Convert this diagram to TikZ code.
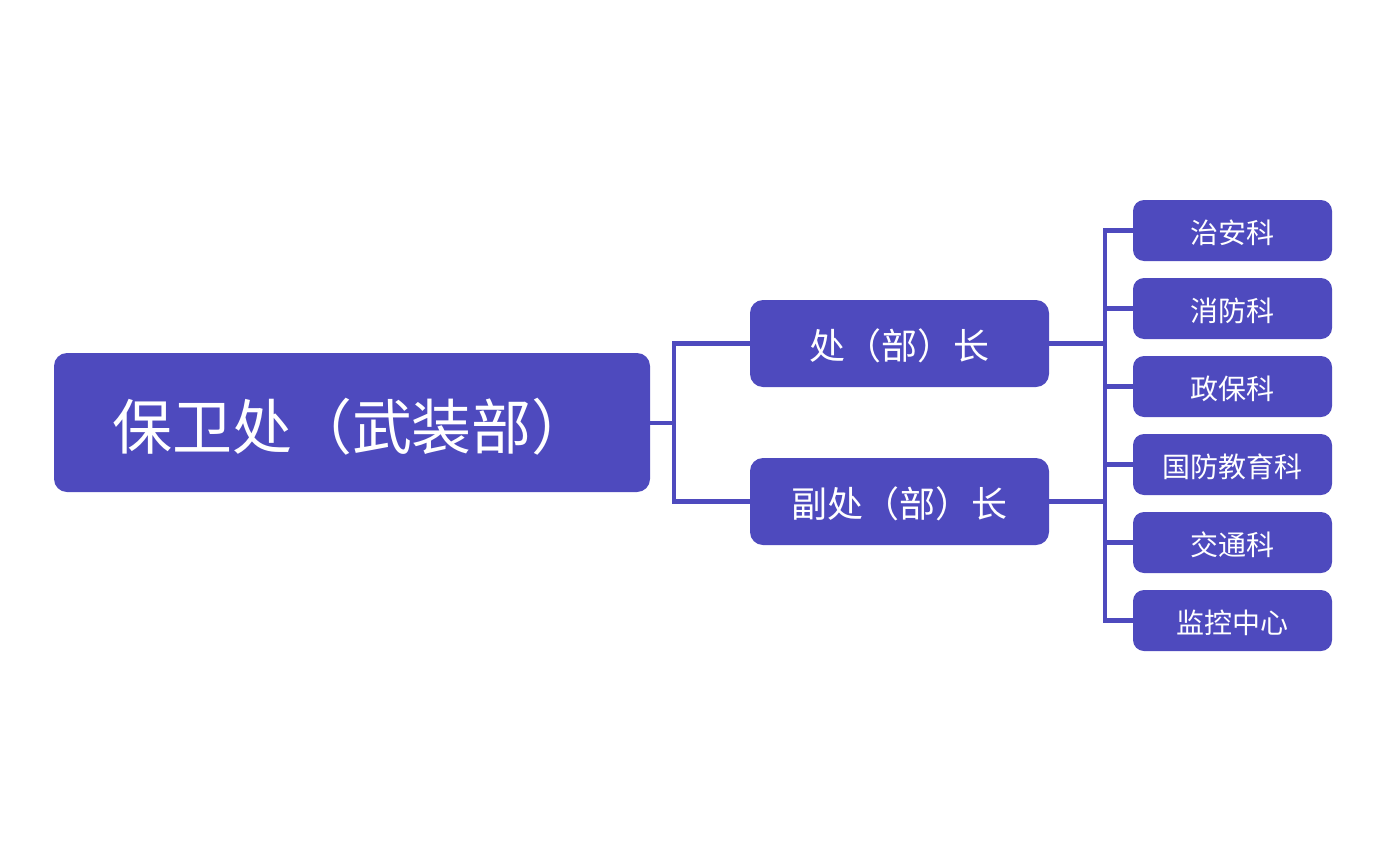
\documentclass[tikz,border=0pt]{standalone}
\usepackage{fontspec}
\setmainfont{Noto Sans CJK SC}
\newcommand{\lowertxt}[2]{\raisebox{-#1}[\height][\depth]{#2}}
\begin{document}
\begin{tikzpicture}[x=1pt,y=-1pt,
  box/.style={fill=mainc, rounded corners=13pt, inner sep=0pt, text=white},
  link/.style={draw=mainc, line width=4.5pt}]
\definecolor{mainc}{HTML}{4E4ABE}
\useasboundingbox (0,0) rectangle (1377,846);
\node[box, minimum width=596pt, minimum height=139pt, font=\fontsize{60}{64}\selectfont] (root) at (352,422.5) {\lowertxt{4pt}{保卫处（武装部）}};
\node[box, minimum width=299pt, minimum height=87pt, font=\fontsize{36}{40}\selectfont] (a) at (899.5,343.5) {\lowertxt{2.5pt}{处（部）长}};
\node[box, minimum width=299pt, minimum height=87pt, font=\fontsize{36}{40}\selectfont] (b) at (899.5,501.5) {\lowertxt{2.5pt}{副处（部）长}};
\foreach \n/\t [count=\i from 0] in {c1/治安科,c2/消防科,c3/政保科,c4/国防教育科,c5/交通科,c6/监控中心}{
  \node[box, rounded corners=11pt, minimum width=199pt, minimum height=61pt, font=\fontsize{28}{32}\selectfont] (\n) at (1232.5,230.5+78*\i) {\lowertxt{2pt}{\t}};
}
\coordinate (j1) at (674,423);
\draw[link] (root.east |- j1) -- (j1);
\draw[link] (a.west) -| (j1) |- (b.west);
\coordinate (v) at (1105,343.5);
\draw[link] (a.east) -- (v);
\draw[link] (b.east) -- (v |- b.east);
\draw[link] (c1.west) -| (v |- c1.west) -- (v |- c6.west) -- (c6.west);
\foreach \n in {c2,c3,c4,c5}{
  \draw[link] (v |- \n.west) -- (\n.west);
}
\end{tikzpicture}
\end{document}
